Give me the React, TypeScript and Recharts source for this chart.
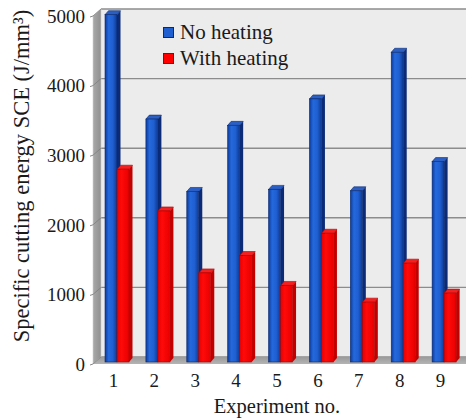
import React from "react";
import { BarChart, Bar, XAxis, YAxis, Label } from "recharts";

const CATEGORIES = ["1", "2", "3", "4", "5", "6", "7", "8", "9"];
const NO_HEATING = [4990, 3490, 2450, 3400, 2480, 3780, 2460, 4450, 2880];
const WITH_HEATING = [2770, 2170, 1280, 1530, 1100, 1850, 860, 1420, 990];
const Y_TICKS = [0, 1000, 2000, 3000, 4000, 5000];
const Y_MAX = 5000;
const SERIES_NAMES = ["No heating", "With heating"];
const SERIES_COLORS = ["#1f5fd0", "#ff0000"];
const SERIES_EDGES = ["#0a2a70", "#a00000"];

const data = CATEGORIES.map((name, i) => ({
  name,
  noHeating: NO_HEATING[i],
  withHeating: WITH_HEATING[i],
}));

// layout
const W = 466;
const H = 419;
const TOP = 16;
const Y_AXIS_W = 93;
const RIGHT = 5;
const X_AXIS_H = 55;
const PLOT_L = Y_AXIS_W;
const PLOT_B = H - X_AXIS_H;
const PLOT_H = PLOT_B - TOP;
const DEPTH_X = 8;
const DEPTH_Y = 7;

const FONT = '"Liberation Serif", "Times New Roman", serif';
const TEXT = "#1a1a1a";

const yOf = (v: number) => TOP + PLOT_H * (1 - v / Y_MAX);

// 3d walls drawn behind the chart
const Walls = () => (
  <svg width={W} height={H} style={{ position: "absolute", left: 0, top: 0 }}>
    <defs>
      <linearGradient id="wallGrad" x1="0" y1="0" x2="1" y2="0">
        <stop offset="0%" stopColor="#a9a9a9" />
        <stop offset="100%" stopColor="#8f8f8f" />
      </linearGradient>
      <linearGradient id="floorGrad" x1="0" y1="0" x2="0" y2="1">
        <stop offset="0%" stopColor="#9a9a9a" />
        <stop offset="100%" stopColor="#b4b4b4" />
      </linearGradient>
    </defs>
    <rect
      x={PLOT_L + DEPTH_X}
      y={TOP - DEPTH_Y}
      width={W - PLOT_L - DEPTH_X}
      height={PLOT_H}
      fill="#ececec"
    />
    {Y_TICKS.map((t) => (
      <line
        key={t}
        x1={PLOT_L + DEPTH_X}
        x2={W}
        y1={yOf(t) - DEPTH_Y}
        y2={yOf(t) - DEPTH_Y}
        stroke="#8c8c8c"
        strokeWidth={1.4}
      />
    ))}
    <polygon
      points={`${PLOT_L},${TOP} ${PLOT_L + DEPTH_X},${TOP - DEPTH_Y} ${PLOT_L + DEPTH_X},${PLOT_B - DEPTH_Y} ${PLOT_L},${PLOT_B}`}
      fill="url(#wallGrad)"
      stroke="#d0d0d0"
      strokeWidth={0.6}
    />
    <polygon
      points={`${PLOT_L},${PLOT_B} ${PLOT_L + DEPTH_X},${PLOT_B - DEPTH_Y} ${W},${PLOT_B - DEPTH_Y} ${W},${PLOT_B}`}
      fill="url(#floorGrad)"
    />
    {Y_TICKS.map((t) => (
      <g key={"t" + t}>
        <line x1={PLOT_L - 3} x2={PLOT_L} y1={yOf(t) + 1} y2={yOf(t)} stroke="#888" />
        <line
          x1={PLOT_L}
          x2={PLOT_L + DEPTH_X}
          y1={yOf(t)}
          y2={yOf(t) - DEPTH_Y}
          stroke="#7e7e7e"
          strokeWidth={0.8}
        />
      </g>
    ))}
  </svg>
);

// bar with a side face and a top cap
const make3DBar = (front: string, side: string, cap: string, edge: string) => (props: any) => {
  const { x, y, width, height } = props;
  if (height == null || height <= 0) return null;
  const dx = 4;
  const dy = 2;
  const sx = 3.5;
  const sy = 4;
  const fx = x + dx;
  const fy = y - dy;
  const r = fx + width;
  const b = fy + height;
  return (
    <g>
      <polygon
        points={`${r},${fy} ${r + sx},${fy - sy} ${r + sx},${b - sy} ${r},${b}`}
        fill={side}
      />
      <polygon
        points={`${fx},${fy} ${fx + sx},${fy - sy} ${r + sx},${fy - sy} ${r},${fy}`}
        fill={cap}
        stroke={edge}
        strokeWidth={0.6}
      />
      <rect x={fx} y={fy} width={width} height={height} fill={front} stroke={edge} strokeWidth={0.6} />
    </g>
  );
};

const BlueBar = make3DBar("url(#blueFront)", "#0b2b78", "#2c5fc4", "#0a2a70");
const RedBar = make3DBar("url(#redFront)", "#c20000", "#f22020", "#b00000");

const LegendBox = () => (
  <div
    style={{
      position: "absolute",
      left: 163,
      top: 19,
      fontFamily: FONT,
      fontSize: 21,
      color: TEXT,
      lineHeight: "26px",
    }}
  >
    {SERIES_NAMES.map((name, i) => (
      <div key={name} style={{ display: "flex", alignItems: "center", whiteSpace: "nowrap" }}>
        <span
          style={{
            display: "inline-block",
            width: 9,
            height: 9,
            background: SERIES_COLORS[i],
            border: `1px solid ${SERIES_EDGES[i]}`,
            marginRight: 6,
          }}
        />
        {name}
      </div>
    ))}
  </div>
);

const YTitle = (props: any) => {
  const vb = props.viewBox || { x: 0, y: TOP, width: Y_AXIS_W, height: PLOT_H };
  const cx = vb.x + 21;
  const cy = vb.y + vb.height / 2 - 14;
  return (
    <text
      x={cx}
      y={cy}
      transform={`rotate(-90 ${cx} ${cy})`}
      textAnchor="middle"
      dominantBaseline="central"
      fontFamily={FONT}
      fontSize={22.5}
      fill={TEXT}
    >
      Specific cutting energy SCE (J/mm³)
    </text>
  );
};

export default function App() {
  return (
    <div style={{ position: "absolute", left: 0, top: 0, width: W, height: H, background: "#fff" }}>
      <Walls />
      <div style={{ position: "absolute", left: 0, top: 0 }}>
        <BarChart
          width={W}
          height={H}
          data={data}
          margin={{ top: TOP, right: RIGHT, bottom: 0, left: 0 }}
          barGap={0}
          barSize={12}
        >
          <defs>
            <linearGradient id="blueFront" x1="0" y1="0" x2="1" y2="0">
              <stop offset="0%" stopColor="#0d3a9c" />
              <stop offset="30%" stopColor="#2469dc" />
              <stop offset="65%" stopColor="#1f5fd2" />
              <stop offset="100%" stopColor="#0e3a92" />
            </linearGradient>
            <linearGradient id="redFront" x1="0" y1="0" x2="1" y2="0">
              <stop offset="0%" stopColor="#e60000" />
              <stop offset="35%" stopColor="#ff0a0a" />
              <stop offset="100%" stopColor="#e80000" />
            </linearGradient>
          </defs>
          <XAxis
            dataKey="name"
            height={X_AXIS_H}
            interval={0}
            tickLine={false}
            axisLine={false}
            tickSize={0}
            tickMargin={10}
            tick={{ fontFamily: FONT, fontSize: 19, fill: TEXT }}
          >
            <Label
              value="Experiment no."
              position="insideBottom"
              offset={6}
              style={{ fontFamily: FONT, fontSize: 20.5, fill: TEXT }}
            />
          </XAxis>
          <YAxis
            width={Y_AXIS_W}
            domain={[0, Y_MAX]}
            ticks={Y_TICKS}
            interval={0}
            tickLine={false}
            axisLine={false}
            tickSize={0}
            tickMargin={8}
            tick={{ fontFamily: FONT, fontSize: 19, fill: TEXT }}
            label={<YTitle />}
          />
          <Bar dataKey="noHeating" name={SERIES_NAMES[0]} fill={SERIES_COLORS[0]} shape={BlueBar} isAnimationActive={false} />
          <Bar dataKey="withHeating" name={SERIES_NAMES[1]} fill={SERIES_COLORS[1]} shape={RedBar} isAnimationActive={false} />
        </BarChart>
      </div>
      <LegendBox />
    </div>
  );
}
